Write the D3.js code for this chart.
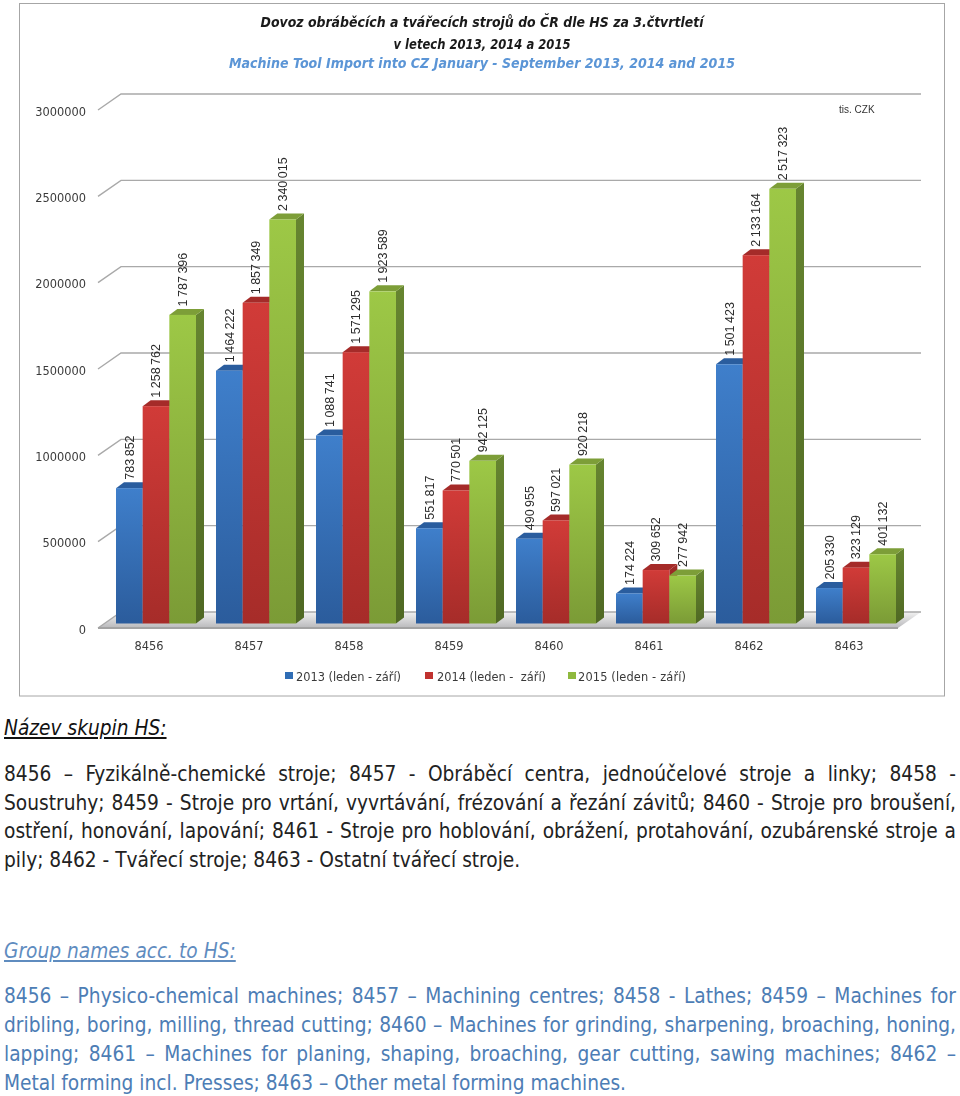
<!DOCTYPE html>
<html><head><meta charset="utf-8">
<script src="https://d3js.org/d3.v7.min.js"></script>
<style>
html,body{margin:0;padding:0;background:#fff;width:960px;height:1096px;overflow:hidden}
svg{position:absolute;left:0;top:0;filter:blur(0.3px)}
.ln{position:absolute;left:4px;width:952px;font-family:"DejaVu Sans",sans-serif;font-stretch:condensed;font-size:20.7px;word-spacing:-0.6px;line-height:29px;white-space:nowrap;text-align:justify;text-align-last:justify}
.ln.last{text-align-last:left;word-spacing:0}
.hd{position:absolute;left:4px;font-family:"DejaVu Sans",sans-serif;font-stretch:condensed;font-style:italic;text-decoration:underline;font-size:20.7px;line-height:29px;white-space:nowrap}
</style></head><body>
<svg id="c" width="960" height="1096"></svg>
<script>
const categories=["8456","8457","8458","8459","8460","8461","8462","8463"];
const seriesNames=["2013 (leden - září)","2014 (leden -  září)","2015 (leden - září)"];
const values2013=[783852,1464222,1088741,551817,490955,174224,1501423,205330];
const values2014=[1258762,1857349,1571295,770501,597021,309652,2133164,323129];
const values2015=[1787396,2340015,1923589,942125,920218,277942,2517323,401132];
const labels2013=["783 852","1 464 222","1 088 741","551 817","490 955","174 224","1 501 423","205 330"];
const labels2014=["1 258 762","1 857 349","1 571 295","770 501","597 021","309 652","2 133 164","323 129"];
const labels2015=["1 787 396","2 340 015","1 923 589","942 125","920 218","277 942","2 517 323","401 132"];
const yTicks=[0,500000,1000000,1500000,2000000,2500000,3000000];
const titleLines=["Dovoz obráběcích a tvářecích strojů do ČR dle HS za 3.čtvrtletí","v letech 2013, 2014 a 2015"];
const titleEn="Machine Tool Import into CZ January - September 2013, 2014 and 2015";
const unitLabel="tis. CZK";
const headCz="Název skupin HS:";
const linesCz=["8456 – Fyzikálně-chemické stroje; 8457 - Obráběcí centra, jednoúčelové stroje a linky; 8458 -","Soustruhy; 8459 - Stroje pro vrtání, vyvrtávání, frézování a řezání závitů; 8460 - Stroje pro broušení,","ostření, honování, lapování; 8461 - Stroje pro hoblování, obrážení, protahování, ozubárenské stroje a","pily; 8462 - Tvářecí stroje; 8463 - Ostatní tvářecí stroje."];
const headEn="Group names acc. to HS:";
const linesEn=["8456 – Physico-chemical machines; 8457 – Machining centres; 8458 - Lathes; 8459 – Machines for","dribling, boring, milling, thread cutting; 8460 – Machines for grinding, sharpening, broaching, honing,","lapping; 8461 – Machines for planing, shaping, broaching, gear cutting, sawing machines; 8462 –","Metal forming incl. Presses; 8463 – Other metal forming machines."];
const palette=[
 {hi:"#3f7fcb",lo:"#2b5c9c",top:"#2a5d9e",sideHi:"#2a5a96",sideLo:"#1f4374",key:"#2f6db5"},
 {hi:"#d13b38",lo:"#a62c29",top:"#a52b29",sideHi:"#a02a28",sideLo:"#7c1f1d",key:"#c0322f"},
 {hi:"#9dc846",lo:"#7b9b36",top:"#7d9e38",sideHi:"#668530",sideLo:"#4f6823",key:"#8fb93e"}];
const seriesValues=[values2013,values2014,values2015];
const seriesLabels=[labels2013,labels2014,labels2015];

const svg=d3.select("#c");
const defs=svg.append("defs");
palette.forEach((p,i)=>{
  const g=defs.append("linearGradient").attr("id","g"+i).attr("x1",0).attr("x2",0).attr("y1",0).attr("y2",1);
  g.append("stop").attr("offset",0).attr("stop-color",p.hi);
  g.append("stop").attr("offset",1).attr("stop-color",p.lo);
  const h=defs.append("linearGradient").attr("id","s"+i).attr("x1",0).attr("x2",0).attr("y1",0).attr("y2",1);
  h.append("stop").attr("offset",0).attr("stop-color",p.sideHi);
  h.append("stop").attr("offset",1).attr("stop-color",p.sideLo);
});
const floorG=defs.append("linearGradient").attr("id","fl").attr("x1",0).attr("x2",0).attr("y1",0).attr("y2",1);
floorG.append("stop").attr("offset",0).attr("stop-color","#f1f1f1");
floorG.append("stop").attr("offset",1).attr("stop-color","#b9b9bc");

// frame
svg.append("rect").attr("x",19.5).attr("y",3.5).attr("width",925).attr("height",692.5).attr("fill","#fff").attr("stroke","#a6a6a6").attr("stroke-width",1);

// scales
const x=d3.scaleBand().domain(categories).range([116,916]).paddingInner(0).paddingOuter(0);
const inner=d3.scaleBand().domain([0,1,2]).range([0,80]);
const barY=d3.scaleLinear().domain([0,3000000]).range([623.5,105.5]);
const frontY=d3.scaleLinear().domain([0,3000000]).range([628,110]);
const DX=23,DY=16,barDX=8,barDY=6,backRight=921;

// floor
const fy=frontY(0);
svg.append("path").attr("d",`M${98},${fy}L${98+DX},${fy-DY}L${backRight},${fy-DY}L${backRight-DX},${fy}Z`).attr("fill","url(#fl)");

// gridlines
svg.append("g").selectAll("path").data(yTicks).join("path")
 .attr("d",d=>`M98,${frontY(d)}L${98+DX},${frontY(d)-DY}L${backRight},${frontY(d)-DY}`)
 .attr("fill","none").attr("stroke","#a9a9a9").attr("stroke-width",1.4);
svg.append("line").attr("x1",98).attr("x2",backRight-DX).attr("y1",fy).attr("y2",fy).attr("stroke","#a3a3a3").attr("stroke-width",2);

// axes
const axisFont='"DejaVu Sans",sans-serif';
const ya=svg.append("g").attr("transform","translate(90,1.5)").call(d3.axisLeft(frontY).tickValues(yTicks).tickFormat(d3.format("d")).tickSize(0).tickPadding(4));
ya.select(".domain").remove();
ya.selectAll("text").attr("font-family",axisFont).attr("font-size",11.4).attr("fill","#3a3a3a").attr("font-weight",500);
const xa=svg.append("g").attr("transform","translate(-17,642)").call(d3.axisBottom(x).tickSize(0).tickPadding(0));
xa.select(".domain").remove();
xa.selectAll("text").attr("font-family",axisFont).attr("font-size",11.4).attr("fill","#3a3a3a").attr("font-weight",500);

// bars
seriesValues.forEach((vals,s)=>{
  const g=svg.append("g");
  const xs=i=>x(categories[i])+inner(s), w=inner.bandwidth();
  vals.forEach((v,i)=>{
    const x0=xs(i), t=barY(v), b=barY(0);
    g.append("path").attr("d",`M${x0+w},${t}L${x0+w+barDX},${t-barDY}L${x0+w+barDX},${b-barDY}L${x0+w},${b}Z`).attr("fill",`url(#s${s})`);
    g.append("path").attr("d",`M${x0},${t}L${x0+barDX},${t-barDY}L${x0+w+barDX},${t-barDY}L${x0+w},${t}Z`).attr("fill",palette[s].top);
    g.append("rect").attr("x",x0).attr("y",t).attr("width",w).attr("height",b-t).attr("fill",`url(#g${s})`);
  });
});
// value labels
seriesValues.forEach((vals,s)=>{
  vals.forEach((v,i)=>{
    const cx=x(categories[i])+inner(s)+inner.bandwidth()/2;
    svg.append("text").attr("transform",`translate(${cx},${barY(v)-8.5}) rotate(-90)`)
      .attr("dy","0.35em").attr("font-family",'"Liberation Sans",sans-serif').attr("font-size",12.5).attr("word-spacing",-1)
      .attr("fill","#2c2c2c").text(seriesLabels[s][i]);
  });
});

// title
const tf='"DejaVu Sans",sans-serif';
const tt=(t,y,c,len)=>svg.append("text").attr("x",482).attr("y",y).attr("text-anchor","middle").attr("font-family",tf).attr("font-size",13.5)
 .attr("font-weight","bold").attr("font-style","italic").attr("fill",c).attr("textLength",len).attr("lengthAdjust","spacingAndGlyphs").text(t);
tt(titleLines[0],27,"#1a1a1a",443);
tt(titleLines[1],49,"#1a1a1a",177);
tt(titleEn,68,"#5b95d6",506);
svg.append("text").attr("x",839).attr("y",113).attr("font-family",'"Liberation Sans",sans-serif').attr("font-size",10).attr("fill","#333").text(unitLabel);

// legend
const legendKeyX=[285,425,568],legendTextX=[296,437,578],legendTextW=[105,109,108];
seriesNames.forEach((n,i)=>{
  svg.append("rect").attr("x",legendKeyX[i]).attr("y",672).attr("width",8).attr("height",7).attr("fill",palette[i].key);
  svg.append("text").attr("x",legendTextX[i]).attr("y",680.5).attr("font-family",axisFont).attr("font-size",11.4).attr("fill","#3a3a3a").attr("font-weight",500).attr("xml:space","preserve").attr("textLength",legendTextW[i]).text(n);
});

// paragraphs
const body=d3.select("body");
const add=(cls,t,top,col)=>body.append("div").attr("class",cls).style("top",top+"px").style("color",col).text(t);
add("hd",headCz,714,"#111");
linesCz.forEach((t,i)=>add("ln"+(i==3?" last":""),t,[760,789,817,846][i],"#222"));
add("hd",headEn,937,"#5f8cbf");
linesEn.forEach((t,i)=>add("ln"+(i==3?" last":""),t,[982,1011,1040,1069][i],"#4d7db5"));
</script>
</body></html>
